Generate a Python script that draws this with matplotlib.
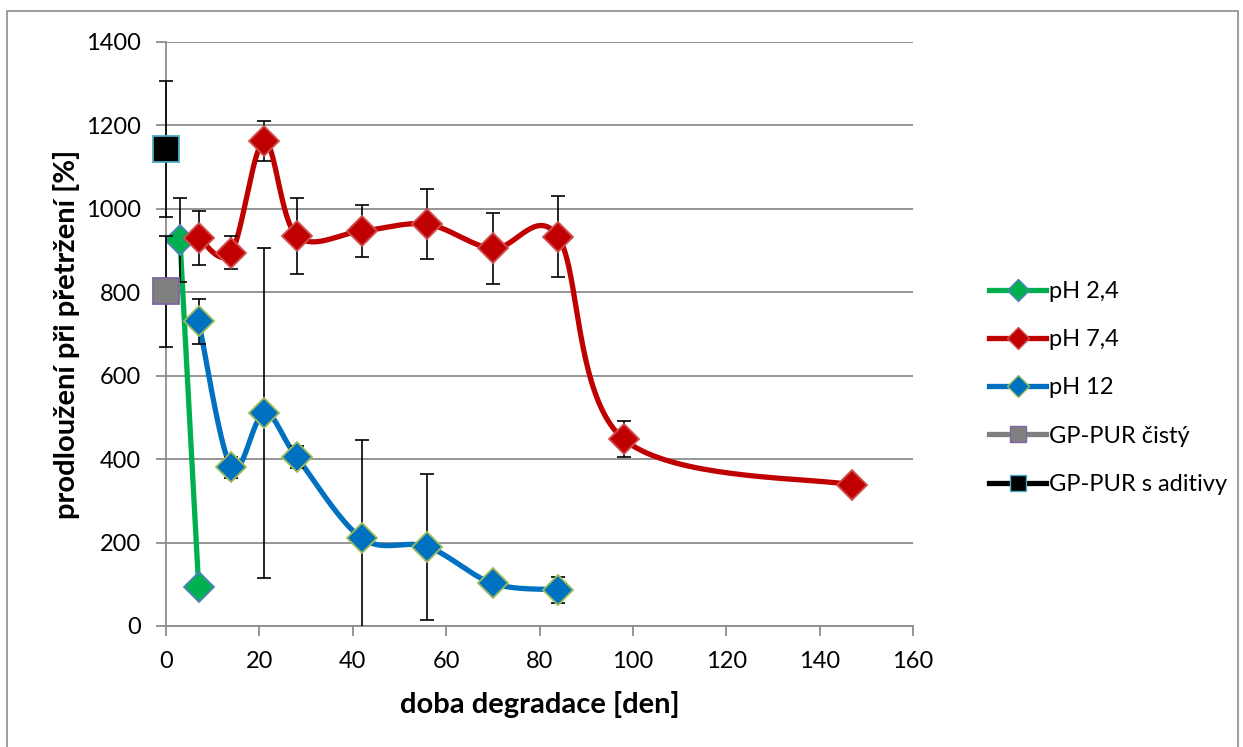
import numpy as np
import matplotlib.pyplot as plt
from matplotlib.lines import Line2D
from matplotlib.patches import Rectangle

plt.rcParams['font.family'] = ['Lato', 'DejaVu Sans']

# degradation time [days] and elongation at break [%] with std. deviations
days_24 = [3, 7]
elong_24 = [925, 93]
err_24 = [100, 10]

days_74 = [7, 14, 21, 28, 42, 56, 70, 84, 98, 147]
elong_74 = [930, 895, 1162, 935, 947, 963, 905, 933, 448, 338]
err_74 = [65, 40, 48, 92, 63, 84, 84, 97, 44, 0]

days_12 = [7, 14, 21, 28, 42, 56, 70, 84]
elong_12 = [730, 380, 510, 405, 210, 190, 102, 87]
err_12 = [53, 25, 395, 27, 237, 175, 0, 31]

pure_day, pure_val, pure_err = [0], [803], [133]
addit_day, addit_val, addit_err = [0], [1143], [163]

XMAX, YMAX = 160, 1400


def smooth(xs, ys, ax_w=747, ax_h=584, n=40):
    # Catmull-Rom style bezier smoothing done in pixel space
    sx, sy = ax_w / XMAX, ax_h / YMAX
    P = np.column_stack([np.asarray(xs, float) * sx, np.asarray(ys, float) * sy])
    out = [P[0]]
    t = np.linspace(0, 1, n)[1:, None]
    for i in range(len(P) - 1):
        p0 = P[i - 1] if i > 0 else P[i]
        p1, p2 = P[i], P[i + 1]
        p3 = P[i + 2] if i + 2 < len(P) else P[i + 1]
        c1 = p1 + (p2 - p0) / 6
        c2 = p2 - (p3 - p1) / 6
        seg = ((1 - t) ** 3) * p1 + 3 * ((1 - t) ** 2) * t * c1 + 3 * (1 - t) * t ** 2 * c2 + t ** 3 * p2
        out.extend(seg)
    out = np.array(out)
    return out[:, 0] / sx, out[:, 1] / sy


fig = plt.figure(figsize=(12.43, 7.47), dpi=100)
ax = fig.add_axes([166 / 1243, 1 - 626 / 747, 747 / 1243, 584 / 747])

fig.add_artist(Rectangle((7 / 1243, -0.01), 1231 / 1243, 1 - 11 / 747 + 0.01,
                         transform=fig.transFigure, fill=False,
                         edgecolor='#8c8c8c', lw=1.2))

series = [
    (days_24, elong_24, err_24, '#00B050', '#00B050', '#4F81BD', 'D', 'pH 2,4', False),
    (days_74, elong_74, err_74, '#C00000', '#C00000', '#D05050', 'D', 'pH 7,4', True),
    (days_12, elong_12, err_12, '#0070C0', '#0070C0', '#9BBB59', 'D', 'pH 12', True),
]

for i, (x, y, e, lc, fc, ec, m, lab, sm) in enumerate(series):
    if sm:
        sx_, sy_ = smooth(x, y)
    else:
        sx_, sy_ = x, y
    ax.plot(sx_, sy_, color=lc, lw=3.8, solid_capstyle='round', zorder=3 + i)
    ax.errorbar(x, y, yerr=e, fmt='none', ecolor='black', elinewidth=1.2,
                capsize=5, capthick=1.2, zorder=3.1 + i)
    ax.plot(x, y, ls='none', marker=m, ms=15, mfc=fc, mec=ec, mew=1.3, zorder=3.2 + i)

ax.errorbar(pure_day, pure_val, yerr=pure_err, fmt='none', ecolor='black',
            elinewidth=1.2, capsize=5, capthick=1.2, zorder=6, clip_on=False)
ax.plot(pure_day, pure_val, ls='none', marker='s', ms=19, mfc='#808080',
        mec='#8064A2', mew=1.3, zorder=6.2, clip_on=False)
ax.errorbar(addit_day, addit_val, yerr=addit_err, fmt='none', ecolor='black',
            elinewidth=1.2, capsize=5, capthick=1.2, zorder=7, clip_on=False)
ax.plot(addit_day, addit_val, ls='none', marker='s', ms=19, mfc='black',
        mec='#4BACC6', mew=1.3, zorder=7.2, clip_on=False)

ax.set_xlim(0, XMAX)
ax.set_ylim(0, YMAX)
ax.set_xticks(np.arange(0, 161, 20))
ax.set_yticks(np.arange(0, 1401, 200))
ax.yaxis.grid(True, color='#8c8c8c', lw=1.3)
ax.set_axisbelow(True)
for s in ['top', 'right']:
    ax.spines[s].set_visible(False)
for s in ['left', 'bottom']:
    ax.spines[s].set_color('#8c8c8c')
    ax.spines[s].set_linewidth(1.3)
ax.tick_params(axis='both', direction='out', length=7, width=1.3, color='#8c8c8c',
               labelsize=17)
ax.tick_params(axis='x', pad=11)
ax.tick_params(axis='y', pad=11)

ax.set_xlabel('doba degradace [den]', fontsize=21, fontweight='bold', labelpad=14)
ax.set_ylabel('prodloužení při přetržení [%]', fontsize=21, fontweight='bold', labelpad=4)

handles = [
    Line2D([], [], color='#00B050', lw=3.8, marker='D', ms=11, mfc='#00B050', mec='#4F81BD'),
    Line2D([], [], color='#C00000', lw=3.8, marker='D', ms=11, mfc='#C00000', mec='#D05050'),
    Line2D([], [], color='#0070C0', lw=3.8, marker='D', ms=11, mfc='#0070C0', mec='#9BBB59'),
    Line2D([], [], color='#808080', lw=3.8, marker='s', ms=12, mfc='#808080', mec='#8064A2'),
    Line2D([], [], color='black', lw=3.8, marker='s', ms=12, mfc='black', mec='#4BACC6'),
]
labels = ['pH 2,4', 'pH 7,4', 'pH 12', 'GP-PUR čistý', 'GP-PUR s aditivy']
fig.legend(handles, labels, loc='center left', bbox_to_anchor=(968 / 1243, 1 - 388 / 747),
           frameon=False, fontsize=17, handlelength=2.4, handletextpad=0.12,
           labelspacing=1.15, numpoints=1)

fig.savefig('out.png', dpi=100)
